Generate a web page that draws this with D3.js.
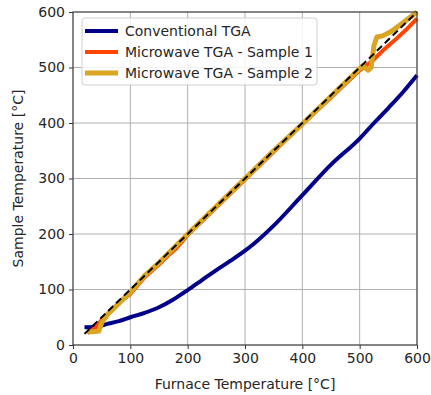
<!DOCTYPE html>
<html>
<head>
<meta charset="utf-8">
<script src="https://cdn.jsdelivr.net/npm/d3@7"></script>
<style>
  body { margin: 0; background: #fff; }
  text { font-family: "DejaVu Sans", sans-serif; fill: #262626; }
</style>
</head>
<body>
<div id="chart"></div>
<script>
// furnace temperature [°C] vs sample temperature [°C]
const conventional = [
  [20, 32], [40, 33], [60, 38], [80, 43], [100, 50], [125, 58], [150, 68], [175, 82],
  [200, 99], [225, 117], [250, 135], [275, 152], [300, 170], [315, 182], [350, 215],
  [400, 270], [450, 325], [500, 372], [525, 400], [550, 427], [575, 455], [600, 486]
];
const sample1 = [
  [25, 22], [30, 24], [40, 32], [50, 45], [60, 56], [70, 64], [80, 76], [90, 84],
  [100, 92], [110, 104], [125, 122], [150, 145], [170, 165], [180, 174], [200, 198],
  [250, 248], [300, 298], [350, 348], [400, 398], [450, 446], [500, 495], [520, 510],
  [540, 530], [560, 548], [580, 567], [600, 588]
];
const sample2 = [
  [25, 24], [35, 24], [45, 25], [50, 40], [60, 55], [75, 70], [100, 95], [125, 125],
  [150, 148], [200, 200], [250, 250], [300, 300], [350, 350], [400, 398], [450, 448],
  [505, 503], [515, 495], [520, 500], [525, 540], [530, 555], [540, 557], [555, 565],
  [575, 580], [600, 600]
];
const reference = [[20, 20], [600, 600]];

const xTicks = [0, 100, 200, 300, 400, 500, 600];
const yTicks = [0, 100, 200, 300, 400, 500, 600];

const series = [
  {name: "Conventional TGA", data: conventional, color: "#00008b", width: 4, smooth: true},
  {name: "Microwave TGA - Sample 1", data: sample1, color: "#ff4500", width: 4},
  {name: "Microwave TGA - Sample 2", data: sample2, color: "#daa520", width: 5}
];

const W = 431, H = 395;
const margin = {top: 12, right: 14, bottom: 50, left: 73};
const width = W - margin.left - margin.right;
const height = H - margin.top - margin.bottom;

const svg = d3.select("#chart").append("svg")
  .attr("width", W)
  .attr("height", H);

const g = svg.append("g")
  .attr("transform", "translate(" + margin.left + "," + margin.top + ")");

const x = d3.scaleLinear().domain([0, 600]).range([0, width]);
const y = d3.scaleLinear().domain([0, 600]).range([height, 0]);

// grid
g.append("g").selectAll("line")
  .data(xTicks)
  .join("line")
  .attr("x1", d => x(d)).attr("x2", d => x(d))
  .attr("y1", 0).attr("y2", height)
  .attr("stroke", "#b0b0b0").attr("stroke-width", 1);
g.append("g").selectAll("line")
  .data(yTicks)
  .join("line")
  .attr("y1", d => y(d)).attr("y2", d => y(d))
  .attr("x1", 0).attr("x2", width)
  .attr("stroke", "#b0b0b0").attr("stroke-width", 1);

const line = d3.line().x(d => x(d[0])).y(d => y(d[1]));
const smoothLine = d3.line().x(d => x(d[0])).y(d => y(d[1])).curve(d3.curveMonotoneX);

const plot = g.append("g");
series.forEach(s => {
  plot.append("path")
    .datum(s.data)
    .attr("d", s.smooth ? smoothLine : line)
    .attr("fill", "none")
    .attr("stroke", s.color)
    .attr("stroke-width", s.width)
    .attr("stroke-linejoin", "round");
});

plot.append("path")
  .datum(reference)
  .attr("d", line)
  .attr("fill", "none")
  .attr("stroke", "#000")
  .attr("stroke-width", 2)
  .attr("stroke-dasharray", "7,4");

// frame
g.append("rect")
  .attr("width", width).attr("height", height)
  .attr("fill", "none").attr("stroke", "#333").attr("stroke-width", 1);

// axes
const xAxis = g.append("g")
  .attr("transform", "translate(0," + height + ")")
  .call(d3.axisBottom(x).tickValues(xTicks).tickSize(4).tickPadding(4));
const yAxis = g.append("g")
  .call(d3.axisLeft(y).tickValues(yTicks).tickSize(4).tickPadding(4));
[xAxis, yAxis].forEach(a => {
  a.select(".domain").remove();
  a.selectAll("text").style("font-size", "14px").style("fill", "#262626");
  a.selectAll("line").attr("stroke", "#333");
});

g.append("text")
  .attr("x", width / 2).attr("y", height + 44)
  .attr("text-anchor", "middle")
  .style("font-size", "14px")
  .text("Furnace Temperature [°C]");

g.append("text")
  .attr("transform", "rotate(-90)")
  .attr("x", -height / 2).attr("y", -50)
  .attr("text-anchor", "middle")
  .style("font-size", "14px")
  .text("Sample Temperature [°C]");

// legend
const legend = g.append("g").attr("transform", "translate(9,6)");
legend.append("rect")
  .attr("width", 235).attr("height", 67)
  .attr("rx", 3)
  .attr("fill", "#fff").attr("fill-opacity", 0.85)
  .attr("stroke", "#d0d0d0");
series.forEach((s, i) => {
  const ly = 13 + i * 21;
  legend.append("line")
    .attr("x1", 3).attr("x2", 36)
    .attr("y1", ly).attr("y2", ly)
    .attr("stroke", s.color).attr("stroke-width", s.width);
  legend.append("text")
    .attr("x", 43).attr("y", ly + 5)
    .style("font-size", "14px")
    .text(s.name);
});
</script>
</body>
</html>
